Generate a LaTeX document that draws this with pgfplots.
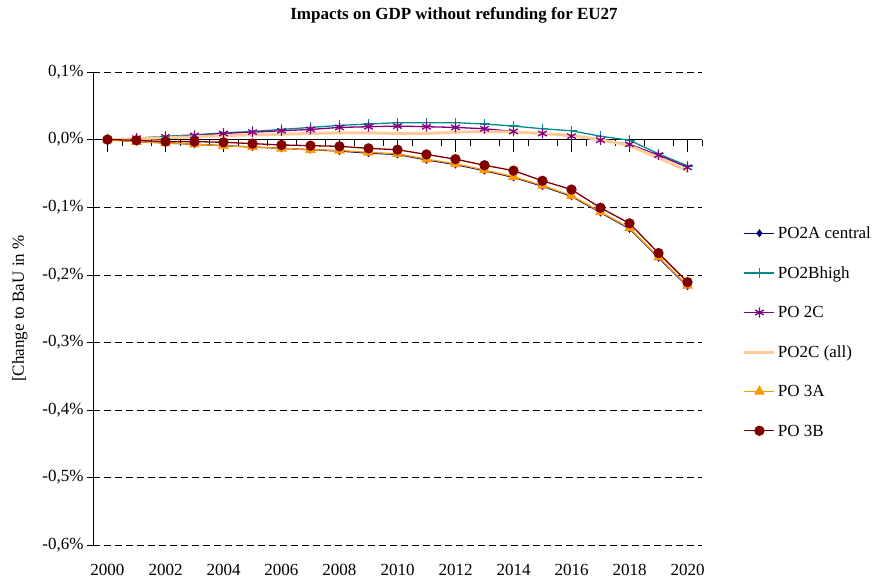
\documentclass[border=0pt]{standalone}
\usepackage{fontspec}
\setmainfont{Liberation Serif}
\usepackage{pgfplots}
\pgfplotsset{compat=1.18}
\usepackage{pgfplotstable}

\definecolor{poNavy}{RGB}{0,0,128}
\definecolor{poTeal}{RGB}{0,140,140}
\definecolor{poPurple}{RGB}{128,0,128}
\definecolor{poPeach}{RGB}{255,204,153}
\definecolor{poOrange}{RGB}{255,153,0}
\definecolor{poMaroon}{RGB}{128,0,0}

% change to BaU in %, by year
\pgfplotstableread{
year   a2     b2     c2     c2all  a3     b3
2000   0      0      0      0      0      0
2001  -0.003  0.002  0.002  0.001 -0.003 -0.001
2002  -0.005  0.005  0.004  0.003 -0.005 -0.003
2003  -0.007  0.007  0.006  0.004 -0.007 -0.003
2004  -0.009  0.010  0.009  0.006 -0.009 -0.004
2005  -0.011  0.012  0.011  0.007 -0.011 -0.006
2006  -0.013  0.015  0.013  0.008 -0.013 -0.008
2007  -0.015  0.018  0.015  0.009 -0.015 -0.009
2008  -0.017  0.021  0.018  0.010 -0.016 -0.010
2009  -0.020  0.023  0.019  0.010 -0.019 -0.013
2010  -0.022  0.025  0.020  0.009 -0.021 -0.015
2011  -0.030  0.025  0.019  0.009 -0.029 -0.022
2012  -0.037  0.025  0.018  0.011 -0.036 -0.029
2013  -0.046  0.023  0.016  0.012 -0.045 -0.038
2014  -0.056  0.020  0.012  0.011 -0.055 -0.046
2015  -0.069  0.016  0.009  0.009 -0.068 -0.061
2016  -0.084  0.013  0.005  0.006 -0.083 -0.074
2017  -0.108  0.005 -0.001  0.000 -0.107 -0.101
2018  -0.132 -0.001 -0.007 -0.009 -0.131 -0.124
2019  -0.175 -0.021 -0.023 -0.027 -0.174 -0.168
2020  -0.217 -0.039 -0.041 -0.046 -0.216 -0.211
}\gdpdata

\begin{document}
\begin{tikzpicture}[font=\fontsize{17bp}{20bp}\selectfont]
\begin{axis}[
    scale only axis,
    width=609bp, height=473bp,
    xmin=1999.5, xmax=2020.5,
    ymin=-0.6, ymax=0.1,
    axis y line=left,
    axis x line=middle,
    x axis line style={-},
    y axis line style={-},
    hide obscured x ticks=false,
    hide obscured y ticks=false,
    xtick={2000,2002,...,2020},
    xticklabels={2000,2002,2004,2006,2008,2010,2012,2014,2016,2018,2020},
    minor xtick={1999.5,2000.5,...,2020.5},
    x tick style={black},
    xtick align=outside,
    xticklabel style={yshift=-409bp},
    ytick={-0.6,-0.5,...,0.1},
    yticklabels={{-0,6\%},{-0,5\%},{-0,4\%},{-0,3\%},{-0,2\%},{-0,1\%},{0,0\%},{0,1\%}},
    ytick align=center,
    y tick style={black},
    major tick length=12bp,
    minor tick length=6bp,
    ymajorgrids,
    major grid style={black, dash pattern=on 7bp off 4bp},
    ylabel={[Change to BaU in \%},
    ylabel style={at={(rel axis cs:-0.12,0.5)}, anchor=center},
    legend style={draw=none, fill=none, at={(rel axis cs:1.062,0.681)}, anchor=north west,
        row sep=22.5bp, font=\fontsize{17bp}{20bp}\selectfont},
    legend cell align=left,
    legend image code/.code={\draw[mark repeat=2,mark phase=2,#1] plot coordinates {(0bp,0.5bp) (15bp,0.5bp) (30bp,0.5bp)};},
    every axis plot/.append style={line width=1.3bp},
    clip=false,
]
\addplot[color=poNavy, mark=diamond*, mark size=3bp] table[x=year,y=a2] {\gdpdata};
\addplot[color=poTeal, mark=+, mark size=5bp] table[x=year,y=b2] {\gdpdata};
\addplot[color=poPurple, mark=asterisk, mark size=5bp] table[x=year,y=c2] {\gdpdata};
\addplot[color=poPeach, line width=3bp, mark=none] table[x=year,y=c2all] {\gdpdata};
\addplot[color=poOrange, mark=triangle*, mark size=5bp] table[x=year,y=a3] {\gdpdata};
\addplot[color=poMaroon, mark=*, mark size=4.5bp] table[x=year,y=b3] {\gdpdata};
\legend{PO2A central, PO2Bhigh, PO 2C, PO2C (all), PO 3A, PO 3B}
\node[font=\fontsize{17bp}{20bp}\selectfont\bfseries] at (rel axis cs:0.5928,1.1205) {Impacts on GDP without refunding for EU27};
\end{axis}
\pgfresetboundingbox
\path ([xshift=-93bp,yshift=-35bp]current axis.south west) rectangle ++(877bp,580bp);
\end{tikzpicture}
\end{document}
